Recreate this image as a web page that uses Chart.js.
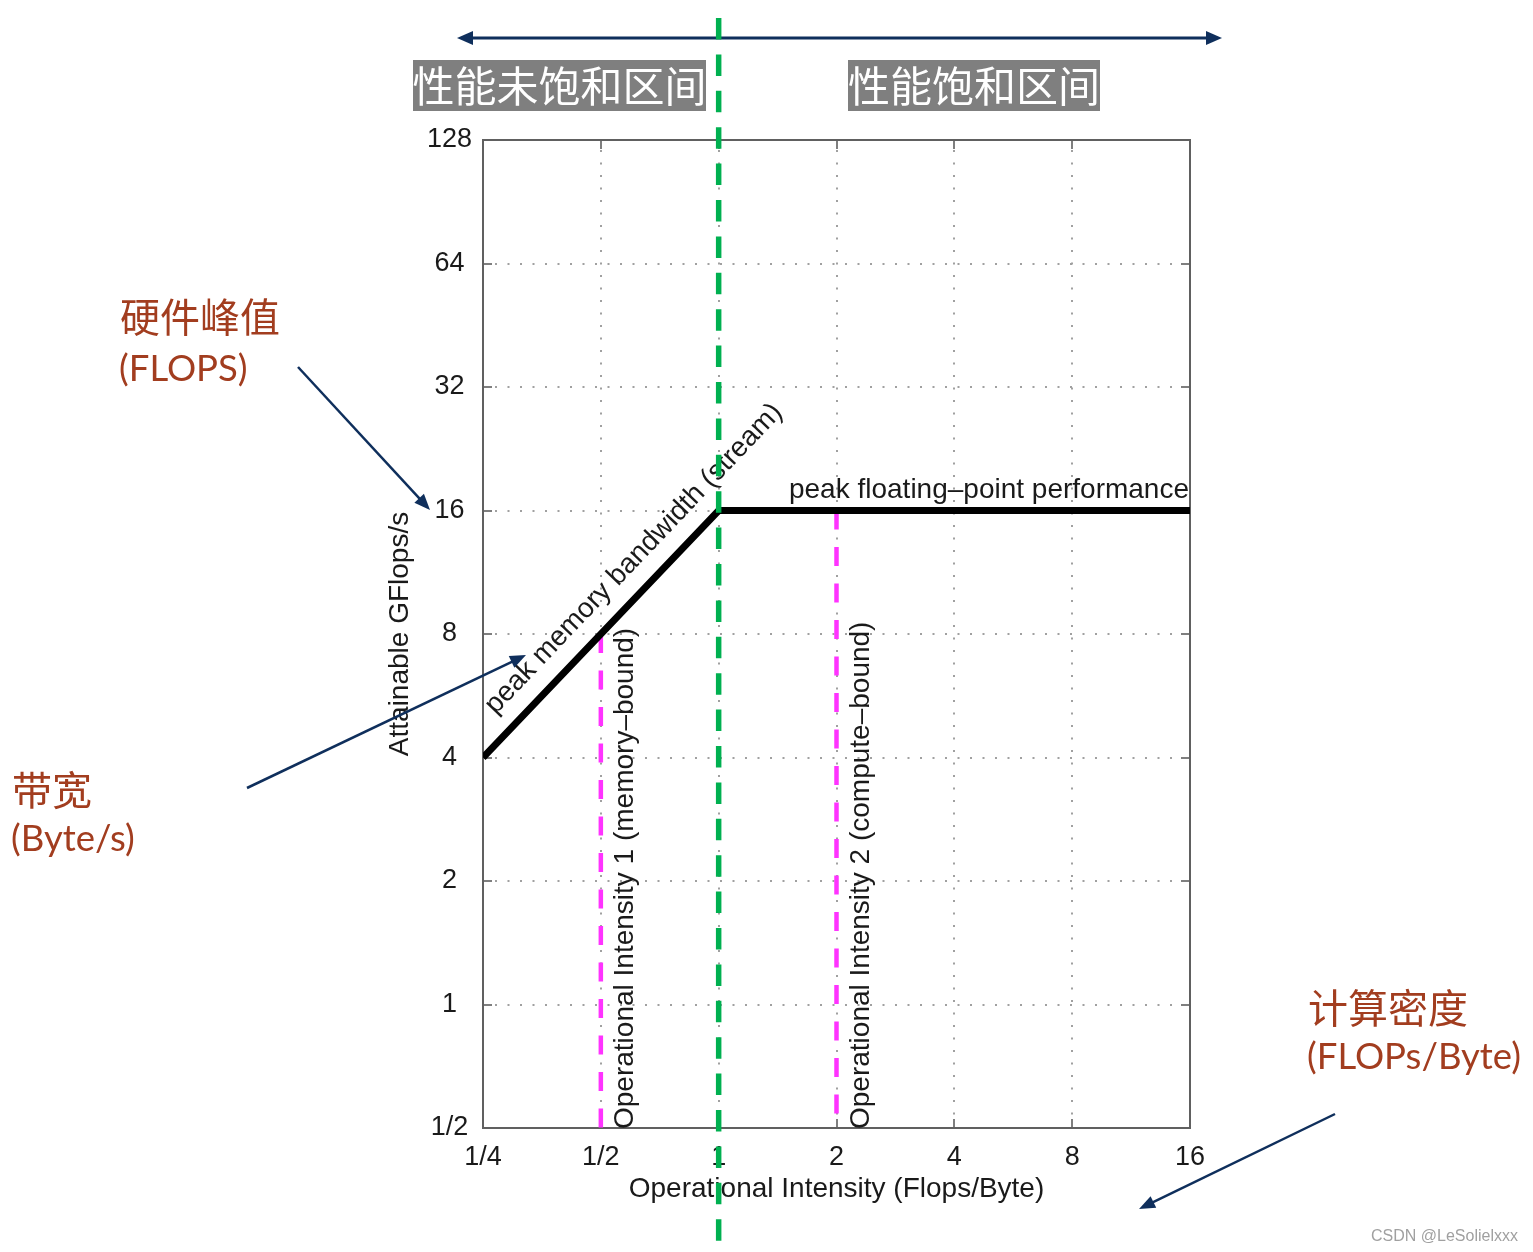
<!DOCTYPE html>
<html><head><meta charset="utf-8">
<script src="https://cdn.jsdelivr.net/npm/chart.js@4/dist/chart.umd.min.js"></script>
<style>html,body{margin:0;padding:0;background:#fff;overflow:hidden}canvas{display:block}</style>
</head><body>
<canvas id="c" width="1533" height="1252"></canvas>
<script>
// ---- data ----
const xTickValues = [0.25, 0.5, 1, 2, 4, 8, 16];
const xTickLabels = ['1/4', '1/2', '1', '2', '4', '8', '16'];
const yTickValues = [0.5, 1, 2, 4, 8, 16, 32, 64, 128];
const yTickLabels = ['1/2', '1', '2', '4', '8', '16', '32', '64', '128'];
const rooflineX = [0.25, 1, 16];
const rooflineY = [4, 16, 16];
const intensity1X = [0.5, 0.5];
const intensity1Y = [8, 0.5];
const intensity2X = [2, 2];
const intensity2Y = [16, 0.5];
const ridgeX = 1;

const xTitle = 'Operational Intensity (Flops/Byte)';
const yTitle = 'Attainable GFlops/s';
const bandwidthLabel = 'peak memory bandwidth (stream)';
const peakLabel = 'peak floating\u2013point performance';
const oi1Label = 'Operational Intensity 1 (memory\u2013bound)';
const oi2Label = 'Operational Intensity 2 (compute\u2013bound)';
const regionLeft = '性能未饱和区间';
const regionRight = '性能饱和区间';

const SANS = '"Liberation Sans", Arial, Helvetica, sans-serif';
const CJK = '"Noto Sans CJK SC", sans-serif';
const LAT = 'Lato, "Open Sans", sans-serif';
const NAVY = '#0f2f5c';
const BROWN = '#a23d1f';
const TXT = '#1a1a1a';

const toPts = (xs, ys) => xs.map((x, i) => ({x, y: ys[i]}));

function arrowHead(ctx, x1, y1, x2, y2, len, half) {
  const a = Math.atan2(y2 - y1, x2 - x1);
  ctx.beginPath();
  ctx.moveTo(x2, y2);
  ctx.lineTo(x2 - len * Math.cos(a) + half * Math.sin(a), y2 - len * Math.sin(a) - half * Math.cos(a));
  ctx.lineTo(x2 - len * Math.cos(a) - half * Math.sin(a), y2 - len * Math.sin(a) + half * Math.cos(a));
  ctx.closePath();
  ctx.fill();
}
function arrow(ctx, x1, y1, x2, y2, w, len, half, both) {
  ctx.save();
  ctx.strokeStyle = NAVY; ctx.fillStyle = NAVY; ctx.lineWidth = w; ctx.setLineDash([]);
  const a = Math.atan2(y2 - y1, x2 - x1);
  const sx = both ? x1 + (len - 2) * Math.cos(a) : x1, sy = both ? y1 + (len - 2) * Math.sin(a) : y1;
  ctx.beginPath();
  ctx.moveTo(sx, sy);
  ctx.lineTo(x2 - (len - 2) * Math.cos(a), y2 - (len - 2) * Math.sin(a));
  ctx.stroke();
  arrowHead(ctx, x1, y1, x2, y2, len, half);
  if (both) arrowHead(ctx, x2, y2, x1, y1, len, half);
  ctx.restore();
}

const framePlugin = {
  id: 'frame',
  beforeDatasetsDraw(chart) {
    const {ctx, chartArea: {left, right, top, bottom}} = chart;
    const xs = chart.scales.x, ys = chart.scales.y;
    ctx.save();
    // dotted grid
    ctx.strokeStyle = '#a0a0a0'; ctx.lineWidth = 2; ctx.setLineDash([2, 10.5]);
    xTickValues.slice(1, -1).forEach(v => {
      const px = Math.round(xs.getPixelForValue(v));
      ctx.beginPath(); ctx.moveTo(px, top + 10); ctx.lineTo(px, bottom - 10); ctx.stroke();
    });
    yTickValues.slice(1, -1).forEach(v => {
      const py = Math.round(ys.getPixelForValue(v));
      ctx.beginPath(); ctx.moveTo(left + 12, py); ctx.lineTo(right - 10, py); ctx.stroke();
    });
    // inner tick marks
    ctx.setLineDash([]); ctx.strokeStyle = '#555'; ctx.lineWidth = 1.5;
    const tl = 9;
    xTickValues.slice(1, -1).forEach(v => {
      const px = Math.round(xs.getPixelForValue(v));
      ctx.beginPath(); ctx.moveTo(px, top); ctx.lineTo(px, top + tl); ctx.stroke();
      ctx.beginPath(); ctx.moveTo(px, bottom); ctx.lineTo(px, bottom - tl); ctx.stroke();
    });
    yTickValues.slice(1, -1).forEach(v => {
      const py = Math.round(ys.getPixelForValue(v));
      ctx.beginPath(); ctx.moveTo(left, py); ctx.lineTo(left + tl, py); ctx.stroke();
      ctx.beginPath(); ctx.moveTo(right, py); ctx.lineTo(right - tl, py); ctx.stroke();
    });
    // frame
    ctx.strokeStyle = '#606060'; ctx.lineWidth = 2;
    ctx.strokeRect(left, top, right - left, bottom - top);
    ctx.restore();
  },
  afterDatasetsDraw(chart) {
    const {ctx, chartArea: {right, bottom}} = chart;
    const xs = chart.scales.x, ys = chart.scales.y;
    ctx.save();
    ctx.fillStyle = TXT;
    ctx.font = '28px ' + SANS;
    // bandwidth label along the sloped roof
    const x0 = xs.getPixelForValue(rooflineX[0]), y0 = ys.getPixelForValue(rooflineY[0]);
    const x1 = xs.getPixelForValue(rooflineX[1]), y1 = ys.getPixelForValue(rooflineY[1]);
    const ang = Math.atan2(y1 - y0, x1 - x0);
    const f = 0.726, off = 28;
    const cx = x0 + (x1 - x0) * f + off * Math.sin(ang);
    const cy = y0 + (y1 - y0) * f - off * Math.cos(ang);
    ctx.save();
    ctx.translate(cx, cy); ctx.rotate(ang);
    ctx.textAlign = 'center'; ctx.textBaseline = 'middle';
    ctx.fillText(bandwidthLabel, 0, 0);
    ctx.restore();
    // peak flops label
    ctx.textAlign = 'right'; ctx.textBaseline = 'alphabetic';
    ctx.fillText(peakLabel, right - 1, ys.getPixelForValue(rooflineY[2]) - 13);
    // vertical labels
    [[intensity1X[0], oi1Label], [intensity2X[0], oi2Label]].forEach(([v, t]) => {
      ctx.save();
      ctx.translate(xs.getPixelForValue(v) + 32, bottom + 1);
      ctx.rotate(-Math.PI / 2);
      ctx.textAlign = 'left'; ctx.textBaseline = 'alphabetic';
      ctx.fillText(t, 0, 0);
      ctx.restore();
    });
    ctx.restore();
  },
  afterDraw(chart) {
    const {ctx} = chart;
    const xs = chart.scales.x;
    ctx.save();
    // region boxes
    ctx.textBaseline = 'middle'; ctx.textAlign = 'center';
    ctx.font = '42px ' + CJK;
    [[413, 706, regionLeft], [848, 1100, regionRight]].forEach(([a, b, t]) => {
      ctx.fillStyle = '#7f7f7f'; ctx.fillRect(a, 60, b - a, 51);
      ctx.fillStyle = '#ffffff'; ctx.fillText(t, (a + b) / 2, 86);
    });
    // brown annotations
    ctx.textAlign = 'left'; ctx.fillStyle = BROWN;
    ctx.font = '40px ' + CJK;
    ctx.fillText('硬件峰值', 120, 317);
    ctx.fillText('带宽', 12, 790);
    ctx.fillText('计算密度', 1308, 1008);
    ctx.font = '36.5px ' + LAT;
    ctx.fillText('(FLOPS)', 119, 369);
    ctx.fillText('(Byte/s)', 11, 839);
    ctx.fillText('(FLOPs/Byte)', 1307, 1057);
    // arrows
    arrow(ctx, 457, 38, 1222, 38, 3, 16, 7, true);
    arrow(ctx, 298, 367, 430, 510, 2.5, 16, 6.5, false);
    arrow(ctx, 247, 788, 526, 655, 2.5, 16, 6.5, false);
    arrow(ctx, 1335, 1114, 1139, 1209, 2.5, 16, 6.5, false);
    // watermark
    ctx.fillStyle = '#a0a0a0'; ctx.font = '16px ' + SANS; ctx.textAlign = 'right';
    ctx.fillText('CSDN @LeSolielxxx', 1518, 1237);
    // green ridge divider
    const gx = xs.getPixelForValue(ridgeX);
    ctx.strokeStyle = '#00b050'; ctx.lineWidth = 5.5; ctx.setLineDash([21.5, 14.9]);
    ctx.beginPath(); ctx.moveTo(gx, 18); ctx.lineTo(gx, 1243); ctx.stroke();
    ctx.restore();
  }
};

const tickFont = {family: SANS, size: 27};
const titleFont = {family: SANS, size: 28};

new Chart(document.getElementById('c'), {
  type: 'line',
  data: {
    datasets: [
      {data: toPts(rooflineX, rooflineY), borderColor: '#000', borderWidth: 7, pointRadius: 0,
       tension: 0, borderJoinStyle: 'miter', borderCapStyle: 'butt', fill: false},
      {data: toPts(intensity1X, intensity1Y), borderColor: '#ff33ff', borderWidth: 4.5,
       borderDash: [19, 17.5], pointRadius: 0, fill: false},
      {data: toPts(intensity2X, intensity2Y), borderColor: '#ff33ff', borderWidth: 4.5,
       borderDash: [19, 17.5], pointRadius: 0, fill: false}
    ]
  },
  options: {
    responsive: false, animation: false, devicePixelRatio: 1,
    layout: {padding: {left: 379, right: 343, top: 140, bottom: 42}},
    plugins: {legend: {display: false}, tooltip: {enabled: false}},
    scales: {
      x: {
        type: 'logarithmic', min: xTickValues[0], max: xTickValues[xTickValues.length - 1],
        afterBuildTicks: s => { s.ticks = xTickValues.map(v => ({value: v})); },
        afterFit: s => { s.height = 82; },
        grid: {display: false, drawTicks: false}, border: {display: false},
        ticks: {autoSkip: false, maxRotation: 0, minRotation: 0, padding: 13, color: TXT, font: tickFont,
                callback: v => xTickLabels[xTickValues.indexOf(v)]},
        title: {display: true, text: xTitle, color: TXT, font: titleFont, padding: {top: 4, bottom: 4}}
      },
      y: {
        type: 'logarithmic', min: yTickValues[0], max: yTickValues[yTickValues.length - 1],
        afterBuildTicks: s => { s.ticks = yTickValues.map(v => ({value: v})); },
        afterFit: s => { s.width = 104; },
        grid: {display: false, drawTicks: false}, border: {display: false},
        ticks: {autoSkip: false, padding: 11, crossAlign: 'center', color: TXT, font: tickFont,
                callback: v => yTickLabels[yTickValues.indexOf(v)]},
        title: {display: true, text: yTitle, color: TXT, font: titleFont, padding: {top: 4, bottom: 4}}
      }
    }
  },
  plugins: [framePlugin]
});
</script>
</body></html>
